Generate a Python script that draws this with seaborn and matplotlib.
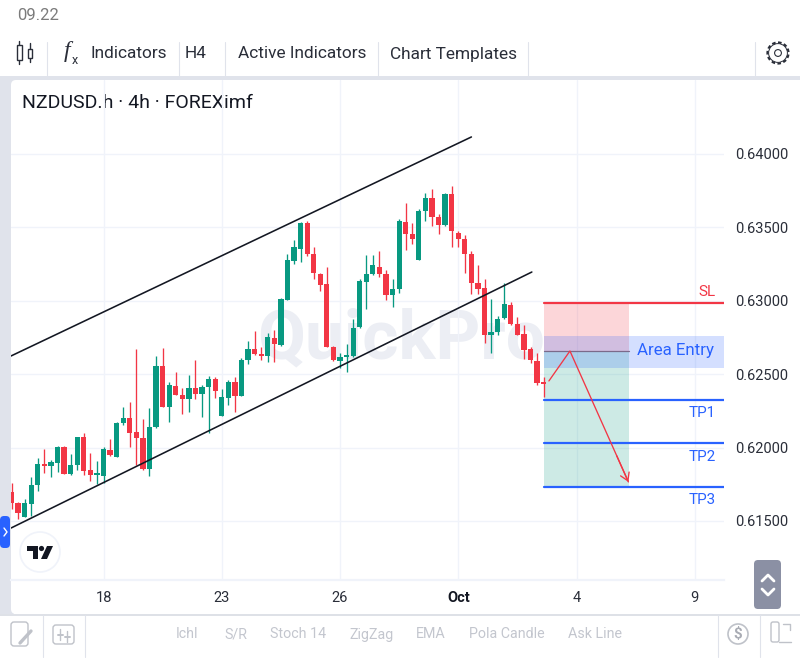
import numpy as np
import pandas as pd
import seaborn as sns
import matplotlib.pyplot as plt
from matplotlib.patches import FancyBboxPatch, Rectangle, Circle, Polygon

open_ = [.61700, .61625, .61525, .61616, .61743, .61888, .61874, .61897, .62002, .61820,
         .61879, .62070, .61847, .61813, .61806, .61983, .61938, .62165, .62199, .62108,
         .62065, .61852, .62138, .62558, .62279, .62422, .62358, .62333, .62406, .62363,
         .62415, .62467, .62215, .62340, .62447, .62354, .62599, .62674, .62637, .62624,
         .62749, .62697, .63006, .63271, .63353, .63532, .63321, .63185, .63112, .62688,
         .62590, .62617, .62626, .62819, .63130, .63180, .63230, .63185, .63037, .63078,
         .63539, .63455, .63278, .63614, .63703, .63573, .63514, .63725, .63464, .63421,
         .63319, .63124, .63085, .62767, .62788, .62881, .62974, .62844, .62774, .62670,
         .62592, .62445]
high = [.61761, .61631, .61647, .61802, .61927, .61988, .61915, .62008, .62008, .61956,
        .62070, .62102, .61961, .61906, .62006, .62061, .62174, .62274, .62310, .62669,
        .62197, .62267, .62624, .62678, .62447, .62515, .62404, .62497, .62597, .62428,
        .62490, .62478, .62399, .62460, .62483, .62608, .62728, .62796, .62683, .62778,
        .62801, .63017, .63319, .63414, .63535, .63546, .63369, .63187, .63228, .62692,
        .62647, .62706, .62878, .63146, .63314, .63310, .63342, .63210, .63146, .63555,
        .63664, .63528, .63628, .63737, .63762, .63591, .63737, .63782, .63478, .63448,
        .63342, .63242, .63151, .63010, .62897, .63124, .62994, .62887, .62835, .62688,
        .62642, .62479]
low = [.61579, .61513, .61525, .61536, .61706, .61829, .61797, .61834, .61820, .61815,
       .61847, .61815, .61775, .61752, .61761, .61943, .61933, .62156, .62002, .61879,
       .61847, .61806, .62133, .62274, .62174, .62356, .62229, .62245, .62329, .62208,
       .62097, .62338, .62215, .62288, .62242, .62351, .62572, .62633, .62597, .62585,
       .62585, .62694, .63006, .63251, .63267, .63305, .63151, .63067, .62688, .62592,
       .62545, .62517, .62620, .62815, .62942, .63176, .63164, .63006, .62956, .63056,
       .63346, .63387, .63278, .63546, .63510, .63455, .63510, .63369, .63364, .63187,
       .63046, .63046, .62710, .62642, .62765, .62878, .62833, .62765, .62601, .62579,
       .62427, .62347]
close = [.61620, .61552, .61620, .61743, .61888, .61874, .61902, .62006, .61820, .61879,
         .62070, .61838, .61815, .61824, .61988, .61947, .62170, .62199, .62102, .62065,
         .61852, .62138, .62558, .62279, .62424, .62356, .62331, .62406, .62365, .62413,
         .62467, .62383, .62344, .62447, .62351, .62599, .62674, .62640, .62624, .62751,
         .62704, .63010, .63278, .63369, .63532, .63319, .63187, .63108, .62688, .62597,
         .62620, .62631, .62815, .63133, .63180, .63246, .63185, .63037, .63078, .63544,
         .63455, .63421, .63614, .63703, .63573, .63516, .63725, .63478, .63421, .63319,
         .63119, .63083, .62767, .62790, .62874, .62978, .62842, .62769, .62665, .62597,
         .62443, .62436]

price_ticks = [.615, .62, .625, .63, .635, .64]
date_pos = [14, 32, 50, 68, 86, 104]
date_labels = ["18", "23", "26", "Oct", "4", "9"]

sl = .62987
entry = .62656
entry_band = [.62540, .62760]
tp1, tp2, tp3 = .62322, .62029, .61729
channel_upper = ([-.08, 70], [.62624, .64116])
channel_lower = ([-.08, 79.2], [.61452, .63196])
trade_x = [81.8, 85, 93.9]
trade_y = [.62454, .62658, .61766]
zone_start, zone_end = 81, 94

toolbar_top = [("Indicators", 90), ("H4", 185), ("Active Indicators", 238), ("Chart Templates", 390)]
toolbar_bottom = [("Ichl", 176), ("S/R", 224), ("Stoch 14", 270), ("ZigZag", 349), ("EMA", 416),
                  ("Pola Candle", 469), ("Ask Line", 568)]

RED = "#f23645"
GREEN = "#089981"
BLUE = "#2962ff"
GRID = "#f0f3fa"
LINE = "#e0e3eb"

sns.set_theme(style="white")
plt.rcParams["font.family"] = ["Roboto", "DejaVu Sans"]

df = pd.DataFrame({"bar": np.arange(len(open_)), "open": open_, "high": high, "low": low, "close": close})
df["top"] = df[["open", "close"]].max(axis=1)
df["base"] = df[["open", "close"]].min(axis=1)
df["body"] = df["top"] - df["base"]
df["up"] = df["close"] >= df["open"]

fig = plt.figure(figsize=(8, 6.58), dpi=100, facecolor="white")


def px_axes(z):
    a = fig.add_axes([0, 0, 1, 1], zorder=z)
    a.set_xlim(0, 800)
    a.set_ylim(658, 0)
    a.axis("off")
    a.patch.set_alpha(0)
    return a


# app chrome behind the chart
bg = px_axes(0)
bg.add_patch(Rectangle((0, 76), 800, 538, fc=LINE, lw=0))
bg.add_patch(Rectangle((14, 83), 790, 540, fc="white", lw=0))
bg.add_patch(FancyBboxPatch((11, 80), 800, 534, boxstyle="round,pad=0,rounding_size=5", fc="white", lw=0))
bg.plot([0, 800], [614.5, 614.5], color="#d8dbe3", lw=1.2)
bg.text(17, 15.5, "09.22", color="#7b7b7b", fontsize=12, va="center")
for xs in [47, 178.5, 224.5, 377.5, 528, 754.5]:
    bg.plot([xs, xs], [42, 76], color=LINE, lw=.8)
for name, xs in toolbar_top:
    bg.text(xs, 54, name, color="#2a2e39", fontsize=12.4, va="center")
bg.text(22, 102.5, "NZDUSD.h · 4h · FOREXimf", color="#131722", fontsize=14, va="center")
for xs in [42.5, 85, 717.5, 760]:
    bg.plot([xs, xs], [615, 657], color=LINE, lw=.8)
for name, xs in toolbar_bottom:
    bg.text(xs, 634.5, name, color="#c3c6ce", fontsize=10.3, va="center")

# chart
ax = fig.add_axes([11 / 800, 1 - 580 / 658, 713 / 800, 500 / 658], zorder=1)
ax.patch.set_alpha(0)
ax.grid(True, color=GRID, lw=1)
ax.set_axisbelow(True)
ax.text(59.3, .62733, "QuickPro", color="#eceef4", fontsize=50, fontweight="bold",
        ha="center", va="center", zorder=0.5)

ax.add_patch(Rectangle((zone_start, entry), zone_end - zone_start, sl - entry, fc=RED, alpha=.2, lw=0, zorder=1))
ax.add_patch(Rectangle((zone_start, tp3), zone_end - zone_start, entry - tp3, fc=GREEN, alpha=.2, lw=0, zorder=1))
ax.add_patch(Rectangle((zone_start, entry_band[0]), 120, entry_band[1] - entry_band[0], fc=BLUE, alpha=.2, lw=0, zorder=1))

for up, colour in [(True, GREEN), (False, RED)]:
    part = df[df["up"] == up]
    ax.vlines(part["bar"], part["low"], part["high"], color=colour, lw=.95, zorder=2)
    sns.barplot(x=part["bar"].values, y=part["body"].values, bottom=part["base"].values, color=colour,
                saturation=1, width=.8, native_scale=True, errorbar=None, ax=ax, zorder=3, linewidth=0)

for xs, ys in [channel_upper, channel_lower]:
    sns.lineplot(x=xs, y=ys, color="#131722", lw=1.15, ax=ax, zorder=4)

for level, colour in [(sl, RED), (tp1, BLUE), (tp2, BLUE), (tp3, BLUE)]:
    sns.lineplot(x=[zone_start, 120], y=[level, level], color=colour, lw=1.6, ax=ax, zorder=4)
sns.lineplot(x=[zone_start, zone_end], y=[entry, entry], color="#7b6a8a", lw=.9, ax=ax, zorder=4)

sns.lineplot(x=trade_x, y=trade_y, sort=False, estimator=None, color=RED, lw=.95, ax=ax, zorder=5)
# arrow head sits on the last leg of the trade path
ax.annotate("", xy=(trade_x[2], trade_y[2]),
            xytext=(trade_x[1] + .8 * (trade_x[2] - trade_x[1]), trade_y[1] + .8 * (trade_y[2] - trade_y[1])),
            arrowprops=dict(arrowstyle="->,head_length=.45,head_width=.28", color=RED, lw=.95,
                            shrinkA=0, shrinkB=0), zorder=5)

ax.text(105.8, sl + .00075, "SL", ha="center", va="center", color=RED, fontsize=11)
ax.text(101, entry + .00004, "Area Entry", ha="center", va="center", color=BLUE, fontsize=12.2)
ax.text(105.1, tp1 - .00085, "TP1", ha="center", va="center", color=BLUE, fontsize=11)
ax.text(105.1, tp2 - .00095, "TP2", ha="center", va="center", color=BLUE, fontsize=11)
ax.text(105.1, tp3 - .00087, "TP3", ha="center", va="center", color=BLUE, fontsize=11)

ax.set_xlim(-.08, 108.45)
ax.set_ylim(.61098, .64504)
ax.set_yticks(price_ticks)
ax.set_yticklabels([f"{p:.5f}" for p in price_ticks])
ax.yaxis.tick_right()
ax.set_xticks(date_pos)
ax.set_xticklabels(date_labels)
ax.set_xlabel("")
ax.set_ylabel("")
ax.tick_params(axis="both", length=0, labelsize=10.5, labelcolor="#2a2e39")
ax.tick_params(axis="x", pad=8)
ax.tick_params(axis="y", pad=8)
ax.get_xticklabels()[3].set_fontweight("bold")
ax.get_xticklabels()[3].set_color("#131722")
sns.despine(ax=ax, left=True, right=True, top=True, bottom=False)
ax.spines["bottom"].set_color(GRID)
ax.spines["bottom"].set_linewidth(1.6)

# small widgets drawn over the chart
ui = px_axes(2)
ui.add_patch(FancyBboxPatch((0, 516), 10, 32, boxstyle="round,pad=0,rounding_size=4", fc=BLUE, lw=0))
ui.plot([4, 7, 4], [528, 532, 536], color="white", lw=1)
ui.add_patch(Circle((40, 552), 20, fc="white", ec="#f0f3fa", lw=1.2))
ui.add_patch(Polygon([(27, 546), (38, 546), (38, 559), (33, 559), (33, 551), (27, 551)], fc="#131722", lw=0))
ui.add_patch(Circle((41.5, 548.5), 2.6, fc="#131722", lw=0))
ui.add_patch(Polygon([(47, 546), (53, 546), (47, 559), (41, 559)], fc="#131722", lw=0))
ui.add_patch(FancyBboxPatch((754, 560), 27, 49, boxstyle="round,pad=0,rounding_size=4", fc="#8b90a4", lw=0))
ui.plot([762, 768, 774], [581, 575, 581], color="white", lw=2)
ui.plot([762, 768, 774], [589, 595, 589], color="white", lw=2)

# toolbar icons
ui.plot([19, 19], [41, 64], color="#2a2e39", lw=1)
ui.add_patch(Rectangle((16.5, 45), 5.5, 15, fc="white", ec="#2a2e39", lw=1, zorder=3))
ui.plot([29.5, 29.5], [43, 62], color="#2a2e39", lw=1)
ui.add_patch(Rectangle((27.5, 49), 4, 9, fc="white", ec="#2a2e39", lw=1, zorder=3))
ui.text(67, 52, "f", fontsize=17, color="#2a2e39", ha="center", va="center", style="italic", family="Liberation Serif")
ui.text(75, 60, "x", fontsize=9, color="#2a2e39", ha="center", va="center")
ui.add_patch(Circle((778, 53), 10.5, fc="white", ec="#2a2e39", lw=1.6, ls=(0, (1.6, 1.1))))
ui.add_patch(Circle((778, 53), 9.4, fc="white", ec="#2a2e39", lw=.7))
ui.add_patch(Circle((778, 53), 3.4, fc="white", ec="#2a2e39", lw=.8))
ui.add_patch(FancyBboxPatch((11, 622), 17, 24, boxstyle="round,pad=0,rounding_size=3", fc="white", ec="#bfc2c9", lw=1))
ui.plot([20, 31], [643, 631], color="#bfc2c9", lw=2.4)
ui.add_patch(FancyBboxPatch((53, 625), 21, 19, boxstyle="round,pad=0,rounding_size=3", fc="white", ec="#bfc2c9", lw=1))
for xs, y0, y1 in [(60, 629, 640), (67, 631, 642)]:
    ui.plot([xs, xs], [y0, y1], color="#bfc2c9", lw=1)
    ui.plot([xs - 2.5, xs + 2.5], [(y0 + y1) / 2, (y0 + y1) / 2], color="#bfc2c9", lw=1.4)
ui.add_patch(Circle((738, 634), 10, fc="white", ec="#bfc2c9", lw=1.2))
ui.text(738, 634, "$", color="#a9acb4", fontsize=11, fontweight="bold", ha="center", va="center", parse_math=False)
ui.add_patch(FancyBboxPatch((771, 622), 8, 20, boxstyle="round,pad=0,rounding_size=2", fc="white", ec="#bfc2c9", lw=1))
ui.plot([783, 790, 790], [624, 624, 630], color="#bfc2c9", lw=1)
ui.plot([779, 791], [642, 642], color="#bfc2c9", lw=1)

fig.savefig("out.png", dpi=100)
